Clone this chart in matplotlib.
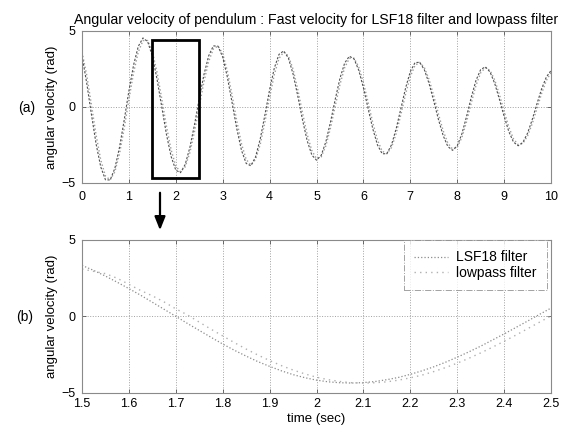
import numpy as np
import matplotlib.pyplot as plt
from matplotlib.patches import Rectangle, FancyArrowPatch

# ------------------------------------------------------------
# dados (velocidade angular em rad)
# ------------------------------------------------------------
t_full = [round(0.1 * i, 1) for i in range(101)]

lsf18_full = [3.36, 1.58, -0.47, -2.43, -3.95, -4.79, -4.80, -4.04, -2.65, -0.85,
              1.06, 2.77, 3.99, 4.54, 4.30, 3.34, 1.82, 0.01, -1.80, -3.26,
              -4.16, -4.32, -3.78, -2.66, -1.14, 0.55, 2.13, 3.36, 4.02, 4.00,
              3.28, 1.95, 0.28, -1.43, -2.85, -3.71, -3.87, -3.29, -2.10, -0.52,
              1.14, 2.56, 3.46, 3.69, 3.22, 2.17, 0.73, -0.83, -2.21, -3.16,
              -3.50, -3.18, -2.28, -0.96, 0.52, 1.89, 2.89, 3.34, 3.16, 2.42,
              1.26, -0.11, -1.44, -2.50, -3.08, -3.07, -2.48, -1.41, -0.08, 1.26,
              2.33, 2.92, 2.94, 2.44, 1.54, 0.38, -0.83, -1.88, -2.60, -2.85,
              -2.56, -1.76, -0.61, 0.65, 1.75, 2.46, 2.64, 2.30, 1.54, 0.50,
              -0.62, -1.62, -2.31, -2.55, -2.33, -1.72, -0.82, 0.21, 1.20, 1.97,
              2.40]

lowpass_full = [3.60, 2.11, 0.15, -1.84, -3.49, -4.54, -4.80, -4.27, -3.07, -1.39,
                0.49, 2.26, 3.62, 4.37, 4.37, 3.63, 2.28, 0.55, -1.26, -2.82,
                -3.89, -4.27, -3.94, -3.00, -1.60, 0.04, 1.66, 2.99, 3.82, 4.01,
                3.50, 2.35, 0.78, -0.92, -2.42, -3.45, -3.82, -3.46, -2.46, -0.99,
                0.64, 2.13, 3.19, 3.62, 3.36, 2.49, 1.16, -0.36, -1.80, -2.87,
                -3.40, -3.28, -2.55, -1.36, 0.08, 1.48, 2.59, 3.20, 3.21, 2.64,
                1.61, 0.30, -1.04, -2.18, -2.91, -3.07, -2.66, -1.73, -0.48, 0.86,
                2.01, 2.74, 2.93, 2.59, 1.81, 0.73, -0.47, -1.56, -2.38, -2.77,
                -2.65, -2.00, -0.96, 0.27, 1.42, 2.25, 2.59, 2.40, 1.77, 0.81,
                -0.28, -1.32, -2.10, -2.48, -2.40, -1.90, -1.09, -0.10, 0.90, 1.74,
                2.27]

# trecho ampliado 1.5 - 2.5 s
t_zoom = [round(1.5 + 0.025 * i, 3) for i in range(41)]

lsf18_zoom = [3.34, 3.01, 2.64, 2.24, 1.82, 1.39, 0.93, 0.47, 0.01, -0.46,
              -0.91, -1.36, -1.80, -2.21, -2.59, -2.95, -3.26, -3.55, -3.80, -4.00,
              -4.16, -4.27, -4.33, -4.35, -4.32, -4.25, -4.13, -3.98, -3.78, -3.55,
              -3.29, -2.99, -2.66, -2.31, -1.94, -1.54, -1.14, -0.72, -0.30, 0.13,
              0.55]

lowpass_zoom = [3.10, 2.95, 2.80, 2.50, 2.10, 1.70, 1.35, 0.95, 0.50, 0.10,
                -0.37, -0.83, -1.27, -1.71, -2.13, -2.52, -2.88, -3.21, -3.50, -3.75,
                -3.97, -4.13, -4.25, -4.33, -4.35, -4.33, -4.27, -4.16, -4.01, -3.83,
                -3.60, -3.34, -3.05, -2.73, -2.38, -2.01, -1.62, -1.22, -0.80, -0.38,
                0.04]

# caixa de destaque no painel (a)
box_x = [1.5, 2.5]
box_y = [-4.65, 4.4]

# ------------------------------------------------------------
# figura
# ------------------------------------------------------------
plt.rcParams['font.family'] = ['Liberation Sans', 'DejaVu Sans']

fig = plt.figure(figsize=(5.64, 4.32), dpi=100)
ax1 = fig.add_axes([0.1454, 0.5764, 0.8316, 0.3519])
ax2 = fig.add_axes([0.1454, 0.0903, 0.8316, 0.3542])

cor_grade = '#a0a0a0'


def estilo(ax, xpad):
    ax.grid(True, linestyle=':', color=cor_grade, linewidth=0.7)
    ax.tick_params(direction='in', length=3, width=0.6, labelsize=9,
                   top=True, right=True, color='#555555')
    ax.tick_params(axis='x', pad=xpad)
    ax.tick_params(axis='y', pad=4.5)
    for lado in ax.spines.values():
        lado.set_color('#8a8a8a')
        lado.set_linewidth(0.8)


# painel (a)
ax1.plot(t_full, lowpass_full, linestyle=':', color='#9c9c9c', linewidth=1.0)
ax1.plot(t_full, lsf18_full, linestyle=(0, (2, 1.5)), color='#505050', linewidth=0.8)
ax1.add_patch(Rectangle((box_x[0], box_y[0]), box_x[1] - box_x[0], box_y[1] - box_y[0],
                        fill=False, edgecolor='black', linewidth=2.0, zorder=5))
ax1.set_xlim(0, 10)
ax1.set_ylim(-5, 5)
ax1.set_xticks(range(0, 11))
ax1.set_yticks([-5, 0, 5])
ax1.set_ylabel('angular velocity (rad)', fontsize=9.5)
ax1.yaxis.set_label_coords(-0.052, 0.5)
ax1.set_title('Angular velocity of pendulum : Fast velocity for LSF18 filter and lowpass filter',
              fontsize=10.2, pad=5)
estilo(ax1, 6.0)

# painel (b)
ax2.plot(t_zoom, lsf18_zoom, linestyle=':', color='#8c8c8c', linewidth=0.9,
         label='LSF18 filter')
ax2.plot(t_zoom, lowpass_zoom, linestyle=(0, (1, 3)), color='#b0b0b0', linewidth=1.0,
         label='lowpass filter')
ax2.set_xlim(1.5, 2.5)
ax2.set_ylim(-5, 5)
xt = [1.5, 1.6, 1.7, 1.8, 1.9, 2.0, 2.1, 2.2, 2.3, 2.4, 2.5]
ax2.set_xticks(xt)
ax2.set_xticklabels(['%g' % v for v in xt])
ax2.set_yticks([-5, 0, 5])
ax2.set_ylabel('angular velocity (rad)', fontsize=9.5)
ax2.yaxis.set_label_coords(-0.052, 0.5)
ax2.set_xlabel('time (sec)', fontsize=9.5, labelpad=2)
estilo(ax2, 3.8)
leg = ax2.legend(loc='upper right', fontsize=10, frameon=True, fancybox=False,
                 handlelength=2.4, handletextpad=0.6, borderpad=0.75,
                 labelspacing=0.1, borderaxespad=0.0,
                 bbox_to_anchor=(0.991, 1.0))
leg.get_frame().set_edgecolor('#8a8a8a')
leg.get_frame().set_linewidth(0.7)
leg.get_frame().set_linestyle('-.')

# rótulos dos painéis
fig.text(18 / 564, 1 - 108 / 432, '(a)', fontsize=10, va='center')
fig.text(16 / 564, 1 - 317 / 432, '(b)', fontsize=10, va='center')

# seta ligando a caixa ao painel ampliado
fig.add_artist(FancyArrowPatch(
    (160 / 564, 1 - 190 / 432), (160 / 564, 1 - 233 / 432),
    transform=fig.transFigure, arrowstyle='-|>,head_length=4,head_width=1.6',
    color='black', linewidth=1.6, mutation_scale=2))

fig.savefig('out.png', dpi=100)
